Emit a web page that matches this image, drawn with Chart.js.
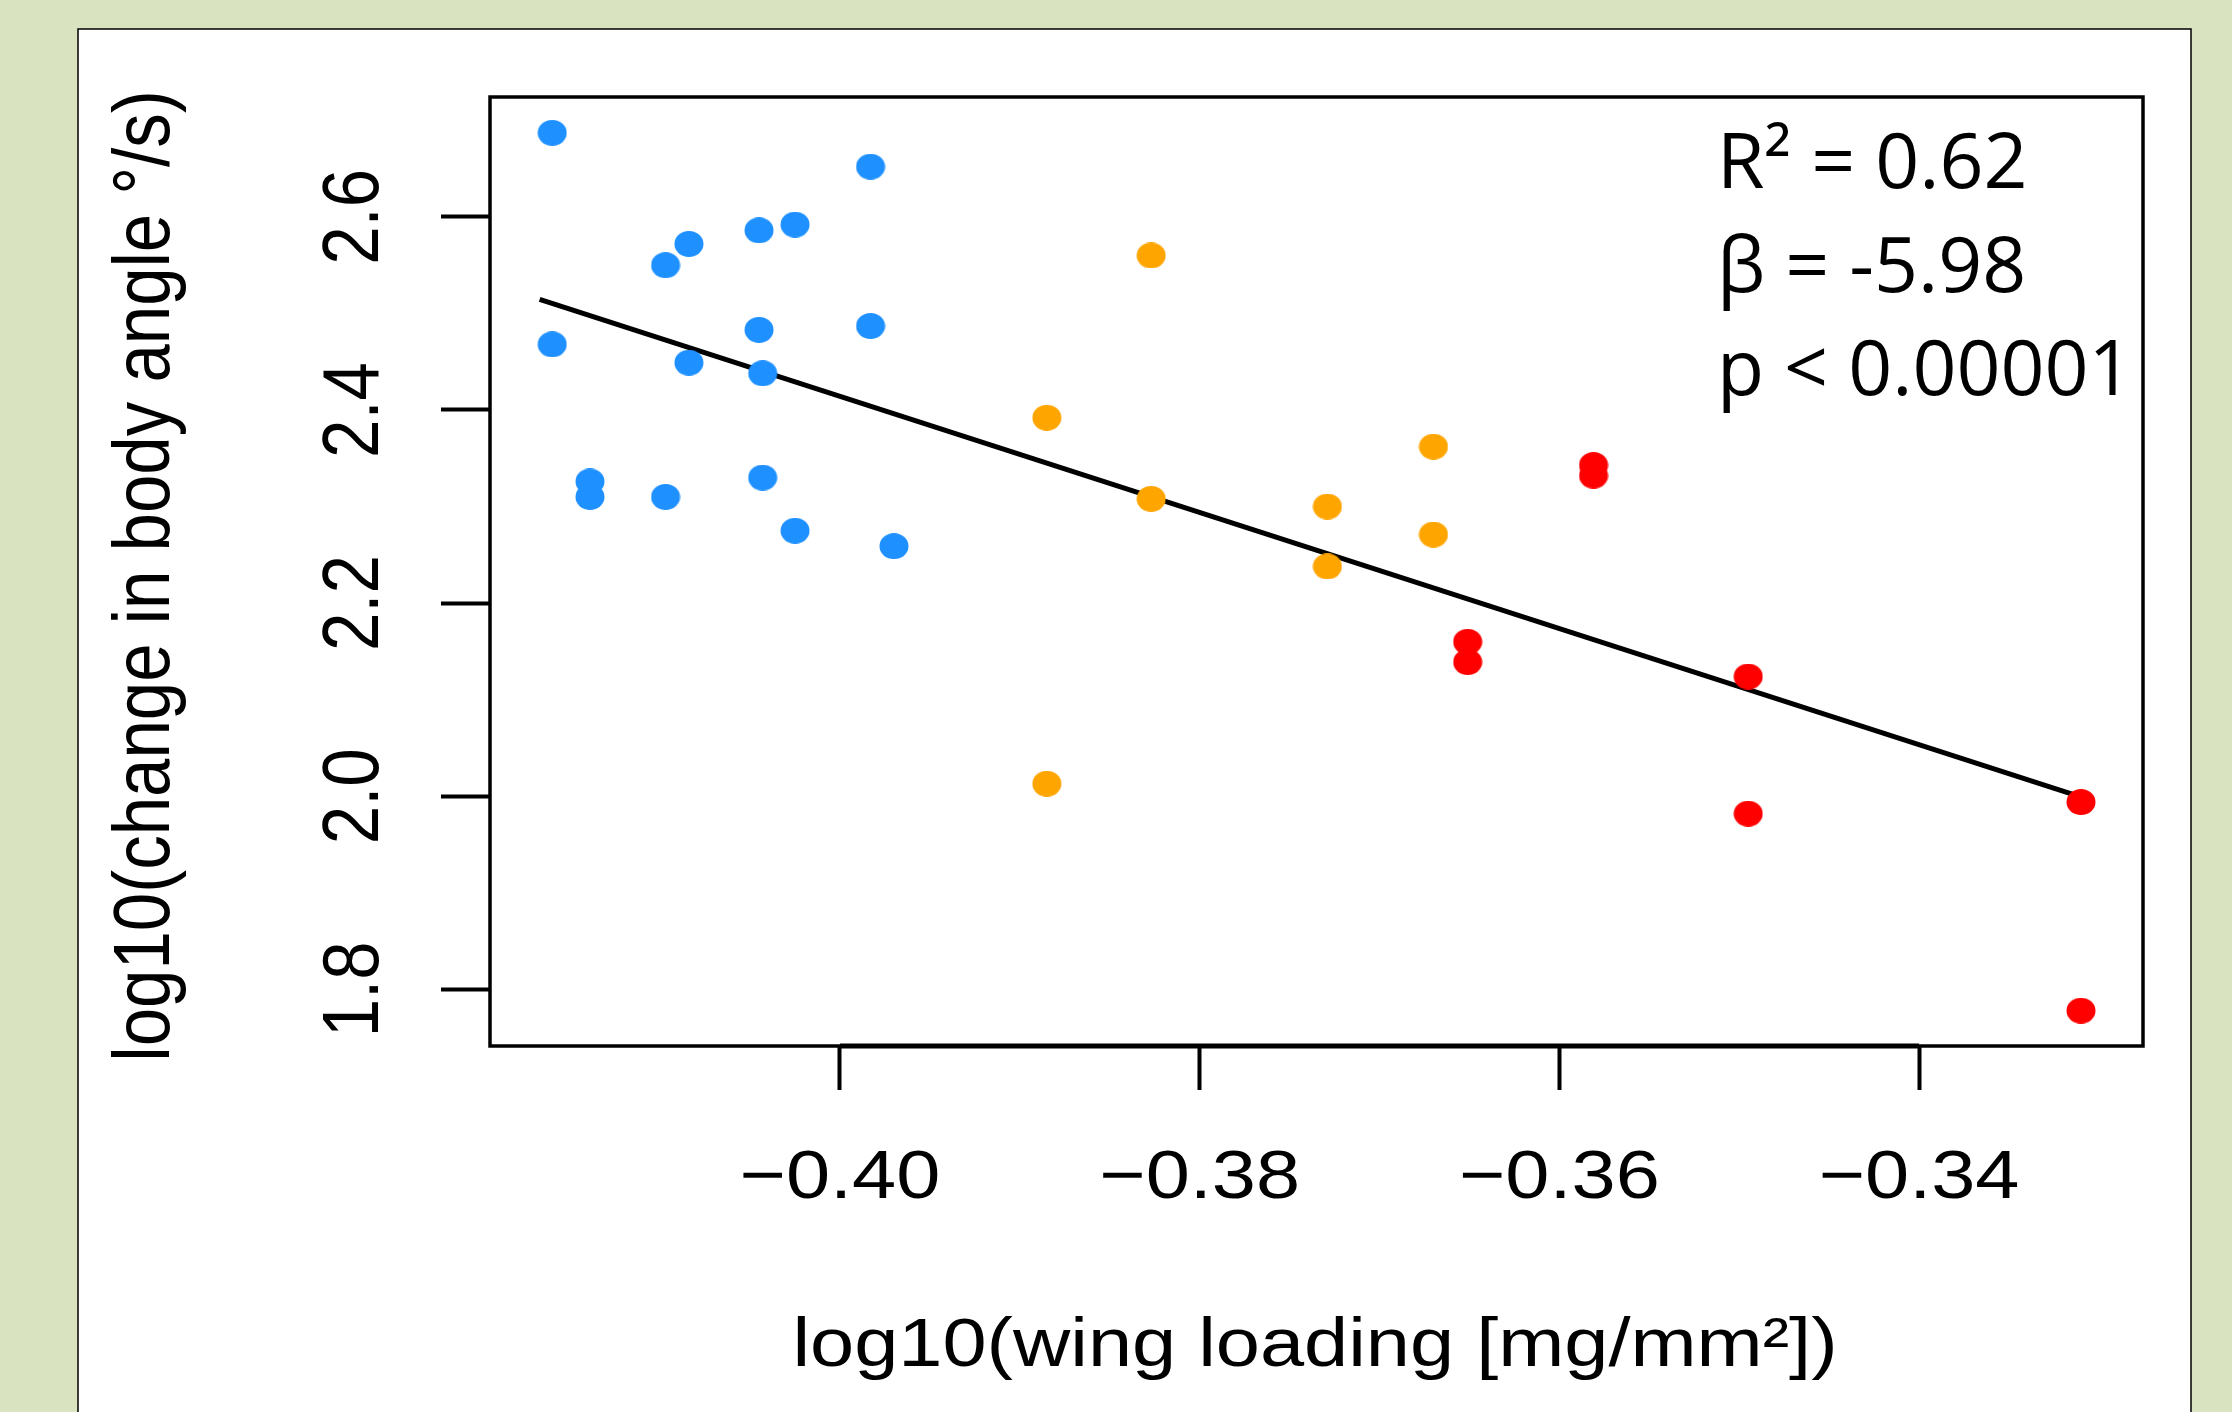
<!DOCTYPE html>
<html>
<head>
<meta charset="utf-8">
<script src="https://cdn.jsdelivr.net/npm/chart.js@4.4.0/dist/chart.umd.min.js"></script>
<style>
  html, body { margin: 0; padding: 0; background: #d9e3bf; }
  canvas { display: block; }
</style>
</head>
<body>
<canvas id="myChart" width="2232" height="1412"></canvas>
<script>
// --- data ---
// blue group
const blueX = [-0.4160, -0.3983, -0.4045, -0.4025, -0.4084, -0.4097, -0.4160, -0.4045, -0.3983,
               -0.4084, -0.4043, -0.4139, -0.4139, -0.4097, -0.4043, -0.4025, -0.3970];
const blueY = [2.687, 2.652, 2.586, 2.592, 2.572, 2.550, 2.468, 2.483, 2.487,
               2.449, 2.438, 2.326, 2.310, 2.310, 2.330, 2.275, 2.259];
// orange group
const orangeX = [-0.3827, -0.3885, -0.3670, -0.3827, -0.3729, -0.3670, -0.3729, -0.3885];
const orangeY = [2.560, 2.392, 2.362, 2.308, 2.300, 2.271, 2.238, 2.013];
// red group
const redX = [-0.3581, -0.3581, -0.3651, -0.3651, -0.3495, -0.3495, -0.3310, -0.3310];
const redY = [2.343, 2.332, 2.160, 2.139, 2.124, 1.982, 1.994, 1.778];
// fitted line end points
const fitX = [-0.4167, -0.3314];
const fitY = [2.5146, 2.0018];

const xTicks = [-0.40, -0.38, -0.36, -0.34];
const yTicks = [1.8, 2.0, 2.2, 2.4, 2.6];
const xRange = [-0.41946, -0.32755];
const yRange = [1.7414, 2.7241];

const statsLines = ['R² = 0.62', 'β = -5.98', 'p < 0.00001'];
const xTitle = 'log10(wing loading [mg/mm²])';
const yTitle = 'log10(change in body angle °/s)';

const SX = 1.15; // the figure is slightly stretched sideways

function pts(xs, ys) {
  return xs.map((x, i) => ({ x: x, y: ys[i] }));
}

// slightly wide dots, like the source
function dot(color) {
  const c = document.createElement('canvas');
  c.width = 30; c.height = 26;
  const g = c.getContext('2d');
  g.fillStyle = color;
  g.beginPath();
  g.ellipse(15, 13, 14.5, 13, 0, 0, Math.PI * 2);
  g.fill();
  return c;
}

function fmtX(v) {
  return (v < 0 ? '\u2212' : '') + Math.abs(v).toFixed(2);
}

const framePlugin = {
  id: 'framePlugin',
  beforeDraw(chart) {
    const ctx = chart.ctx;
    ctx.save();
    ctx.fillStyle = '#d9e3bf';
    ctx.fillRect(0, 0, chart.width, chart.height);
    ctx.fillStyle = '#ffffff';
    ctx.fillRect(78, 29, 2113, 1400);
    ctx.strokeStyle = '#000';
    ctx.lineWidth = 1.5;
    ctx.strokeRect(78, 29, 2113, 1400);
    ctx.restore();
  },
  afterDraw(chart) {
    const ctx = chart.ctx;
    const a = chart.chartArea;
    const x = chart.scales.x;
    const y = chart.scales.y;
    ctx.save();
    // box
    ctx.strokeStyle = '#000';
    ctx.lineWidth = 3.5;
    ctx.strokeRect(a.left, a.top, a.right - a.left, a.bottom - a.top);
    // R draws the x axis line between first and last tick, a bit heavier
    ctx.lineWidth = 5;
    ctx.beginPath();
    ctx.moveTo(x.getPixelForValue(xTicks[0]), a.bottom);
    ctx.lineTo(x.getPixelForValue(xTicks[xTicks.length - 1]), a.bottom);
    ctx.stroke();

    ctx.fillStyle = '#000';
    ctx.font = '69px "Liberation Sans", Arial, sans-serif';
    ctx.textAlign = 'center';
    ctx.textBaseline = 'alphabetic';

    // x tick labels
    x.ticks.forEach(t => {
      ctx.save();
      ctx.translate(x.getPixelForValue(t.value), 1198);
      ctx.scale(SX, 1);
      ctx.fillText(fmtX(t.value), 0, 0);
      ctx.restore();
    });
    // y tick labels (rotated, as in R)
    y.ticks.forEach(t => {
      ctx.save();
      ctx.translate(378, y.getPixelForValue(t.value));
      ctx.scale(SX, 1);
      ctx.rotate(-Math.PI / 2);
      ctx.fillText(t.value.toFixed(1), 0, 0);
      ctx.restore();
    });

    // axis titles
    ctx.save();
    ctx.translate(1315, 1366);
    ctx.scale(SX, 1);
    ctx.fillText(xTitle, 0, 0);
    ctx.restore();

    ctx.save();
    ctx.translate(169, 576);
    ctx.scale(SX, 1);
    ctx.rotate(-Math.PI / 2);
    ctx.fillText(yTitle, 0, 0);
    ctx.restore();

    // stats text
    ctx.font = '77px "Open Sans", sans-serif';
    ctx.textAlign = 'left';
    const base = [188, 292, 395];
    statsLines.forEach((s, i) => ctx.fillText(s, 1717, base[i]));
    ctx.restore();
  }
};

const ctx = document.getElementById('myChart').getContext('2d');

new Chart(ctx, {
  type: 'scatter',
  data: {
    datasets: [
      { label: 'blue', data: pts(blueX, blueY), pointStyle: dot('#1e90ff'), order: 0 },
      { label: 'orange', data: pts(orangeX, orangeY), pointStyle: dot('#ffa500'), order: 0 },
      { label: 'red', data: pts(redX, redY), pointStyle: dot('#ff0000'), order: 0 },
      {
        label: 'fit',
        type: 'line',
        data: pts(fitX, fitY),
        borderColor: '#000',
        borderWidth: 5,
        pointRadius: 0,
        fill: false,
        order: 5
      }
    ]
  },
  options: {
    responsive: false,
    devicePixelRatio: 1,
    animation: false,
    events: [],
    layout: { autoPadding: false, padding: { left: 0, top: 97, right: 89, bottom: 0 } },
    plugins: {
      legend: { display: false },
      tooltip: { enabled: false }
    },
    scales: {
      x: {
        type: 'linear',
        min: xRange[0],
        max: xRange[1],
        afterBuildTicks: s => { s.ticks = xTicks.map(v => ({ value: v })); },
        afterFit: s => { s.height = 366; },
        ticks: { display: false },
        border: { display: false },
        grid: { drawOnChartArea: false, drawTicks: true, tickLength: 44, tickWidth: 4, tickColor: '#000' }
      },
      y: {
        type: 'linear',
        min: yRange[0],
        max: yRange[1],
        afterBuildTicks: s => { s.ticks = yTicks.map(v => ({ value: v })); },
        afterFit: s => { s.width = 490; },
        ticks: { display: false },
        border: { display: false },
        grid: { drawOnChartArea: false, drawTicks: true, tickLength: 49, tickWidth: 4, tickColor: '#000' }
      }
    }
  },
  plugins: [framePlugin]
});
</script>
</body>
</html>
